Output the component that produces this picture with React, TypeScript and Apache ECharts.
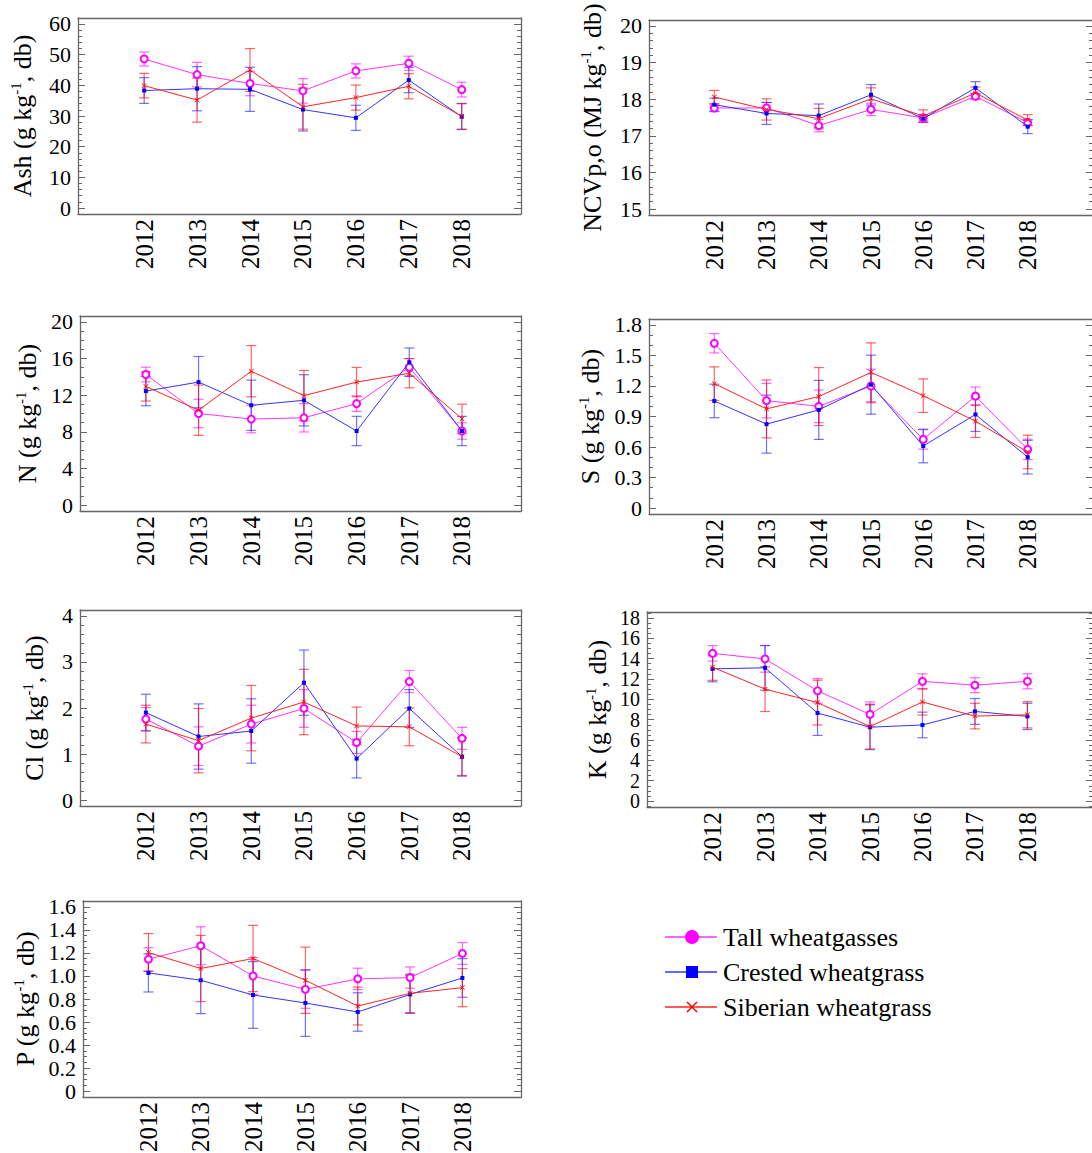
import React, { useEffect, useRef } from 'react';
import * as echarts from 'echarts';

// ---------------- DATA ----------------
const years = [2012, 2013, 2014, 2015, 2016, 2017, 2018];
const groupNames = ['Tall wheatgasses', 'Crested wheatgrass', 'Siberian wheatgrass'];

// Ash (g kg-1, db)
const ashTall = [48.6, 43.5, 40.6, 38.2, 44.7, 47.2, 38.6];
const ashTallErr = [2.3, 4.0, 4.0, 4.0, 2.3, 2.3, 2.4];
const ashCrested = [38.3, 38.9, 38.7, 32.1, 29.4, 41.7, 29.8];
const ashCrestedErr = [4.2, 7.2, 7.2, 7.0, 4.1, 4.1, 4.2];
const ashSiberian = [39.9, 35.2, 45.0, 33.0, 36.0, 39.7, 29.9];
const ashSiberianErr = [4.0, 7.2, 7.0, 7.3, 4.1, 4.1, 4.2];

// NCVp,o (MJ kg-1, db)
const ncvTall = [17.76, 17.76, 17.28, 17.72, 17.49, 18.08, 17.36];
const ncvTallErr = [0.1, 0.15, 0.17, 0.17, 0.08, 0.08, 0.08];
const ncvCrested = [17.85, 17.61, 17.55, 18.12, 17.47, 18.31, 17.25];
const ncvCrestedErr = [0.18, 0.3, 0.32, 0.28, 0.1, 0.17, 0.19];
const ncvSiberian = [18.06, 17.72, 17.47, 18.01, 17.54, 18.17, 17.43];
const ncvSiberianErr = [0.18, 0.29, 0.28, 0.3, 0.17, 0.16, 0.15];

// N (g kg-1, db)
const nTall = [14.26, 10.0, 9.39, 9.53, 11.08, 15.05, 8.09];
const nTallErr = [0.8, 1.55, 1.5, 1.55, 0.85, 0.95, 0.9];
const nCrested = [12.45, 13.43, 10.9, 11.44, 8.09, 15.6, 8.09];
const nCrestedErr = [1.6, 2.8, 2.75, 2.8, 1.6, 1.55, 1.6];
const nSiberian = [12.96, 10.36, 14.62, 11.95, 13.43, 14.4, 9.42];
const nSiberianErr = [1.6, 2.75, 2.8, 2.75, 1.6, 1.6, 1.6];

// S (g kg-1, db)
const sTall = [1.62, 1.056, 1.0, 1.2, 0.675, 1.1, 0.577];
const sTallErr = [0.095, 0.17, 0.16, 0.165, 0.096, 0.09, 0.1];
const sCrested = [1.053, 0.825, 0.965, 1.213, 0.61, 0.92, 0.5];
const sCrestedErr = [0.165, 0.285, 0.29, 0.29, 0.165, 0.167, 0.165];
const sSiberian = [1.223, 0.975, 1.096, 1.334, 1.105, 0.854, 0.551];
const sSiberianErr = [0.165, 0.285, 0.285, 0.29, 0.165, 0.16, 0.165];

// Cl (g kg-1, db)
const clTall = [1.76, 1.17, 1.65, 1.99, 1.25, 2.575, 1.34];
const clTallErr = [0.25, 0.42, 0.41, 0.41, 0.24, 0.24, 0.24];
const clCrested = [1.9, 1.38, 1.5, 2.55, 0.9, 1.99, 0.94];
const clCrestedErr = [0.4, 0.71, 0.7, 0.71, 0.42, 0.41, 0.42];
const clSiberian = [1.65, 1.29, 1.78, 2.13, 1.61, 1.59, 0.94];
const clSiberianErr = [0.41, 0.7, 0.71, 0.71, 0.41, 0.41, 0.41];

// K (g kg-1, db)
const kTall = [14.52, 13.97, 10.84, 8.52, 11.77, 11.39, 11.77];
const kTallErr = [0.76, 1.3, 1.2, 1.22, 0.74, 0.73, 0.74];
const kCrested = [13.0, 13.1, 8.65, 7.26, 7.48, 8.81, 8.32];
const kCrestedErr = [1.28, 2.2, 2.2, 2.2, 1.26, 1.27, 1.29];
const kSiberian = [13.16, 11.0, 9.68, 7.32, 9.74, 8.35, 8.48];
const kSiberianErr = [1.29, 2.2, 2.2, 2.2, 1.29, 1.26, 1.29];

// P (g kg-1, db)
const pTall = [1.146, 1.263, 1.0, 0.884, 0.975, 0.986, 1.196];
const pTallErr = [0.1, 0.165, 0.16, 0.165, 0.093, 0.093, 0.095];
const pCrested = [1.027, 0.963, 0.835, 0.765, 0.687, 0.84, 0.983];
const pCrestedErr = [0.166, 0.29, 0.29, 0.29, 0.167, 0.165, 0.168];
const pSiberian = [1.204, 1.065, 1.152, 0.963, 0.739, 0.849, 0.899];
const pSiberianErr = [0.165, 0.288, 0.288, 0.288, 0.165, 0.167, 0.166];

// y-axis tick settings per panel: [min label, max label, step]
const ashTicks = [0, 60, 10];
const ncvTicks = [15, 20, 1];
const nTicks = [0, 20, 4];
const sTicks = [0, 1.8, 0.3];
const clTicks = [0, 4, 1];
const kTicks = [0, 18, 2];
const pTicks = [0, 1.6, 0.2];

// ---------------- LAYOUT / STYLE ----------------
const FONT = "'Liberation Serif', 'DejaVu Serif', 'Times New Roman', serif";
const COLORS = ['#ff00ff', '#0000ff', '#ff0000'];
const LINE_COLORS = ['#ff33ff', '#3333ff', '#ff2222'];
const ERR_COLORS = ['rgba(255,0,255,0.6)', 'rgba(40,40,255,0.65)', 'rgba(255,0,0,0.6)'];
const AXIS_COLOR = '#666666';

type Panel = {
  title: string;
  ticks: number[];
  minor: number;
  dec: number;
  box: number[]; // left, top, width, height
  xmax: number;
  gap: number;
  labelSize: number;
  vals: number[][];
  errs: number[][];
};

const panels: Panel[] = [
  { title: '{a|Ash (g kg}{sup|-1}{a|, db)}', ticks: ashTicks, minor: 5, dec: 0, box: [78, 18, 443, 196], xmax: 2019.12, gap: 42, labelSize: 22,
    vals: [ashTall, ashCrested, ashSiberian], errs: [ashTallErr, ashCrestedErr, ashSiberianErr] },
  { title: '{a|NCVp,o (MJ kg}{sup|-1}{a|, db)}', ticks: ncvTicks, minor: 5, dec: 0, box: [649, 20, 444, 195], xmax: 2019.25, gap: 43, labelSize: 22,
    vals: [ncvTall, ncvCrested, ncvSiberian], errs: [ncvTallErr, ncvCrestedErr, ncvSiberianErr] },
  { title: '{a|N (g kg}{sup|-1}{a|, db)}', ticks: nTicks, minor: 4, dec: 0, box: [80, 316, 441, 195], xmax: 2019.12, gap: 39, labelSize: 22,
    vals: [nTall, nCrested, nSiberian], errs: [nTallErr, nCrestedErr, nSiberianErr] },
  { title: '{a|S (g kg}{sup|-1}{a|, db)}', ticks: sTicks, minor: 3, dec: 1, box: [649, 319, 444, 195], xmax: 2019.25, gap: 45, labelSize: 22,
    vals: [sTall, sCrested, sSiberian], errs: [sTallErr, sCrestedErr, sSiberianErr] },
  { title: '{a|Cl (g kg}{sup|-1}{a|, db)}', ticks: clTicks, minor: 5, dec: 0, box: [80, 610, 441, 196], xmax: 2019.12, gap: 32, labelSize: 22,
    vals: [clTall, clCrested, clSiberian], errs: [clTallErr, clCrestedErr, clSiberianErr] },
  { title: '{a|K (g kg}{sup|-1}{a|, db)}', ticks: kTicks, minor: 4, dec: 0, box: [647, 612, 446, 195], xmax: 2019.25, gap: 36, labelSize: 20,
    vals: [kTall, kCrested, kSiberian], errs: [kTallErr, kCrestedErr, kSiberianErr] },
  { title: '{a|P (g kg}{sup|-1}{a|, db)}', ticks: pTicks, minor: 4, dec: 1, box: [83, 901, 438, 196], xmax: 2019.12, gap: 44, labelSize: 22,
    vals: [pTall, pCrested, pSiberian], errs: [pTallErr, pCrestedErr, pSiberianErr] },
];

const SYMBOLS = [
  'emptyCircle',
  'rect',
  'path://M0,1L1,0L5,4L9,0L10,1L6,5L10,9L9,10L5,6L1,10L0,9L4,5Z',
];
const SYMBOL_SIZES = [7, 4, 5];

function buildOption() {
  const grid: any[] = [];
  const xAxis: any[] = [];
  const yAxis: any[] = [];
  const series: any[] = [];

  panels.forEach((p, i) => {
    const [lo, hi, step] = p.ticks;
    const pad = (hi - lo) * 0.0326;
    const ymin = lo - pad;
    const ymax = hi + pad;
    grid.push({
      left: p.box[0], top: p.box[1], width: p.box[2], height: p.box[3],
      containLabel: false, outerBoundsMode: 'none',
    });
    const lineStyle = { color: AXIS_COLOR, width: 1.3 };
    xAxis.push({
      type: 'value', gridIndex: i, position: 'bottom', min: 2010.75, max: p.xmax,
      minInterval: 1, maxInterval: 1,
      splitLine: { show: false }, axisTick: { show: false },
      axisLine: { show: true, onZero: false, lineStyle },
      axisLabel: {
        rotate: 90, margin: 5, fontFamily: FONT, fontSize: 25, color: '#000',
        formatter: (v: number) => (years.indexOf(Math.round(v)) >= 0 && Math.abs(v - Math.round(v)) < 1e-6 ? String(Math.round(v)) : ''),
      },
    });
    xAxis.push({
      type: 'value', gridIndex: i, position: 'top', min: 2010.75, max: p.xmax,
      splitLine: { show: false }, axisTick: { show: false }, axisLabel: { show: false },
      axisLine: { show: true, onZero: false, lineStyle },
    });
    const fmt = (v: number) => {
      const k = Math.round(v / step);
      const val = k * step;
      if (Math.abs(v - val) > step * 1e-3) return '';
      if (val < lo - 1e-9 || val > hi + 1e-9) return '';
      if (Math.abs(val) < 1e-9) return '0';
      return val.toFixed(p.dec);
    };
    const yCommon = {
      type: 'value', gridIndex: i, min: ymin, max: ymax,
      minInterval: step, maxInterval: step,
      splitLine: { show: false }, minorSplitLine: { show: false },
      axisLine: { show: true, onZero: false, lineStyle },
      axisTick: { show: true, inside: true, length: 7, lineStyle: { color: AXIS_COLOR, width: 1 } },
      minorTick: { show: true, splitNumber: p.minor, length: 4, lineStyle: { color: AXIS_COLOR, width: 1 } },
    };
    yAxis.push({
      ...yCommon, position: 'left',
      axisLabel: { margin: 7, fontFamily: FONT, fontSize: p.labelSize, lineHeight: 18, color: '#000', formatter: fmt },
      name: p.title, nameLocation: 'middle', nameGap: p.gap, nameRotate: 90,
      nameTextStyle: {
        fontFamily: FONT, fontSize: 26, color: '#000',
        rich: {
          a: { fontFamily: FONT, fontSize: 26, color: '#000', lineHeight: 28 },
          sup: { fontFamily: FONT, fontSize: 15, color: '#000', lineHeight: 16, verticalAlign: 'top' },
        },
      },
    });
    yAxis.push({ ...yCommon, position: 'right', axisLabel: { show: false } });

    for (let g = 0; g < 3; g++) {
      const vals = p.vals[g];
      const errs = p.errs[g];
      const ec = ERR_COLORS[g];
      series.push({
        type: 'custom', name: groupNames[g] + ' error', xAxisIndex: 2 * i, yAxisIndex: 2 * i,
        silent: true, clip: false, z: 2,
        encode: { x: 0, y: [1, 2] },
        data: years.map((yr, j) => [yr, vals[j] - errs[j], vals[j] + errs[j]]),
        renderItem: (_params: any, api: any) => {
          const x = api.value(0);
          const top = api.coord([x, api.value(2)]);
          const bot = api.coord([x, api.value(1)]);
          const w = 5;
          const st = { stroke: ec, lineWidth: 1.2 };
          return {
            type: 'group',
            children: [
              { type: 'line', shape: { x1: top[0], y1: top[1], x2: bot[0], y2: bot[1] }, style: st },
              { type: 'line', shape: { x1: top[0] - w, y1: top[1], x2: top[0] + w, y2: top[1] }, style: st },
              { type: 'line', shape: { x1: bot[0] - w, y1: bot[1], x2: bot[0] + w, y2: bot[1] }, style: st },
            ],
          };
        },
      });
    }
    for (let g = 0; g < 3; g++) {
      const vals = p.vals[g];
      series.push({
        type: 'line', name: groupNames[g], xAxisIndex: 2 * i, yAxisIndex: 2 * i,
        data: years.map((yr, j) => [yr, vals[j]]),
        symbol: SYMBOLS[g], symbolSize: SYMBOL_SIZES[g], showSymbol: true,
        lineStyle: { color: LINE_COLORS[g], width: 1 },
        itemStyle: { color: COLORS[g], borderColor: COLORS[g], borderWidth: g === 0 ? 0.9 : 0 },
        z: 3 + g, silent: true,
      });
    }
  });

  // legend drawn as graphics
  const lgX1 = 665, lgX2 = 717, lgMx = 692, lgTx = 723;
  const rows = [937, 972, 1007];
  const graphic: any[] = [];
  rows.forEach((ry, g) => {
    graphic.push({ type: 'line', shape: { x1: lgX1, y1: ry, x2: lgX2, y2: ry }, style: { stroke: LINE_COLORS[g], lineWidth: 1.5 } });
    if (g === 0) graphic.push({ type: 'circle', shape: { cx: lgMx, cy: ry, r: 7 }, style: { fill: COLORS[0] } });
    if (g === 1) graphic.push({ type: 'rect', shape: { x: lgMx - 6, y: ry - 6, width: 12, height: 12 }, style: { fill: COLORS[1] } });
    if (g === 2) {
      graphic.push({ type: 'line', shape: { x1: lgMx - 5, y1: ry - 5, x2: lgMx + 5, y2: ry + 5 }, style: { stroke: COLORS[2], lineWidth: 1.5 } });
      graphic.push({ type: 'line', shape: { x1: lgMx - 5, y1: ry + 5, x2: lgMx + 5, y2: ry - 5 }, style: { stroke: COLORS[2], lineWidth: 1.5 } });
    }
    graphic.push({
      type: 'text', x: lgTx, y: ry,
      style: { text: groupNames[g], fontFamily: FONT, fontSize: 26, fill: '#000', verticalAlign: 'middle', align: 'left' },
    });
  });

  return {
    animation: false,
    backgroundColor: '#ffffff',
    grid, xAxis, yAxis, series, graphic,
  };
}

export default function App() {
  const ref = useRef<HTMLDivElement>(null);
  useEffect(() => {
    if (!ref.current) return;
    const chart = echarts.init(ref.current, undefined, { renderer: 'svg' });
    chart.setOption(buildOption() as any);
    return () => chart.dispose();
  }, []);
  return (
    <div
      ref={ref}
      style={{ position: 'absolute', left: 0, top: 0, width: 1092, height: 1153, background: '#fff' }}
    />
  );
}
